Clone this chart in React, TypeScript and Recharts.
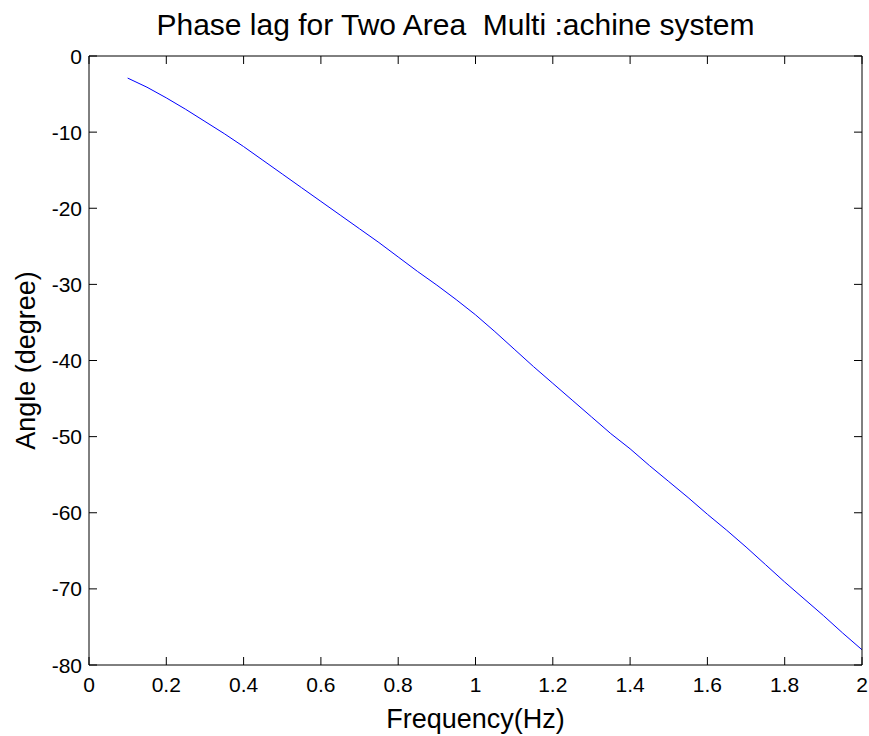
import { Label, Line, LineChart, XAxis, YAxis } from "recharts";

const freqHz = [
  0.1, 0.15, 0.2, 0.25, 0.3, 0.35, 0.4, 0.45, 0.5, 0.55, 0.6, 0.65, 0.7, 0.75, 0.8, 0.85, 0.9, 0.95, 1.0,
  1.05, 1.1, 1.15, 1.2, 1.25, 1.3, 1.35, 1.4, 1.45, 1.5, 1.55, 1.6, 1.65, 1.7, 1.75, 1.8, 1.85, 1.9, 1.95, 2.0,
];
const angleDeg = [
  -2.9, -4.1, -5.5, -7.0, -8.6, -10.2, -11.9, -13.7, -15.5, -17.3, -19.1, -20.9, -22.7, -24.5, -26.4, -28.3,
  -30.1, -32.0, -34.0, -36.2, -38.5, -40.8, -43.0, -45.2, -47.4, -49.6, -51.6, -53.8, -55.9, -58.0, -60.2,
  -62.3, -64.5, -66.8, -69.1, -71.3, -73.5, -75.8, -78.0,
];
const xTicks = [0, 0.2, 0.4, 0.6, 0.8, 1, 1.2, 1.4, 1.6, 1.8, 2];
const yTicks = [-80, -70, -60, -50, -40, -30, -20, -10, 0];

const chartTitle = "Phase lag for Two Area  Multi :achine system";
const xTitle = "Frequency(Hz)";
const yTitle = "Angle (degree)";

const data = freqHz.map((f, i) => ({ f, angle: angleDeg[i] }));

const FONT = "'Liberation Sans', Arial, Helvetica, sans-serif";
const TICK_LEN = 8;

const BottomTick = ({ x, y, payload }: any) => (
  <g>
    <line x1={x} x2={x} y1={y} y2={y - TICK_LEN} stroke="#000" />
    <text x={x} y={y + 27} textAnchor="middle" fontSize={21} fontFamily={FONT} fill="#000">
      {String(payload.value)}
    </text>
  </g>
);

const TopTick = ({ x, y }: any) => <line x1={x} x2={x} y1={y} y2={y + TICK_LEN} stroke="#000" />;

const LeftTick = ({ x, y, payload }: any) => (
  <g>
    <line x1={x} x2={x + TICK_LEN} y1={y} y2={y} stroke="#000" />
    <text x={x - 7} y={y + 7.5} textAnchor="end" fontSize={21} fontFamily={FONT} fill="#000">
      {String(payload.value)}
    </text>
  </g>
);

const RightTick = ({ x, y }: any) => <line x1={x} x2={x - TICK_LEN} y1={y} y2={y} stroke="#000" />;

export default function App() {
  return (
    <div style={{ position: "absolute", left: 0, top: 0, width: 869, height: 736, background: "#fff" }}>
      <LineChart width={869} height={736} data={data} margin={{ top: 55, right: 6, bottom: 31, left: 29 }}>
        <XAxis
          xAxisId="b"
          dataKey="f"
          type="number"
          domain={[0, 2]}
          allowDataOverflow
          ticks={xTicks}
          interval={0}
          height={40}
          tickSize={0}
          tickMargin={0}
          stroke="#000"
          tick={<BottomTick />}
        >
          <Label
            content={({ viewBox }: any) => (
              <text
                x={viewBox.x + viewBox.width / 2}
                y={viewBox.y + 63}
                textAnchor="middle"
                fontSize={27}
                fontFamily={FONT}
                fill="#000"
              >
                {xTitle}
              </text>
            )}
          />
        </XAxis>
        <XAxis
          xAxisId="t"
          orientation="top"
          dataKey="f"
          type="number"
          domain={[0, 2]}
          allowDataOverflow
          ticks={xTicks}
          interval={0}
          height={1}
          tickSize={0}
          tickMargin={0}
          stroke="#000"
          tick={<TopTick />}
        >
          <Label
            content={({ viewBox }: any) => (
              <text
                x={viewBox.x + viewBox.width / 2 - 20}
                y={viewBox.y + viewBox.height - 21}
                textAnchor="middle"
                fontSize={30}
                fontFamily={FONT}
                fill="#000"
                style={{ whiteSpace: "pre" }}
              >
                {chartTitle}
              </text>
            )}
          />
        </XAxis>
        <YAxis
          yAxisId="l"
          type="number"
          domain={[-80, 0]}
          allowDataOverflow
          ticks={yTicks}
          interval={0}
          width={60}
          tickSize={0}
          tickMargin={0}
          stroke="#000"
          tick={<LeftTick />}
        >
          <Label
            content={({ viewBox }: any) => {
              const cx = viewBox.x + 6;
              const cy = viewBox.y + viewBox.height / 2;
              return (
                <text
                  x={cx}
                  y={cy}
                  transform={`rotate(-90 ${cx} ${cy})`}
                  textAnchor="middle"
                  fontSize={27}
                  fontFamily={FONT}
                  fill="#000"
                >
                  {yTitle}
                </text>
              );
            }}
          />
        </YAxis>
        <YAxis
          yAxisId="r"
          orientation="right"
          type="number"
          domain={[-80, 0]}
          allowDataOverflow
          ticks={yTicks}
          interval={0}
          width={1}
          tickSize={0}
          tickMargin={0}
          stroke="#000"
          tick={<RightTick />}
        />
        <Line
          xAxisId="b"
          yAxisId="l"
          type="linear"
          dataKey="angle"
          stroke="#0000ff"
          strokeWidth={1}
          dot={false}
          isAnimationActive={false}
        />
      </LineChart>
    </div>
  );
}
